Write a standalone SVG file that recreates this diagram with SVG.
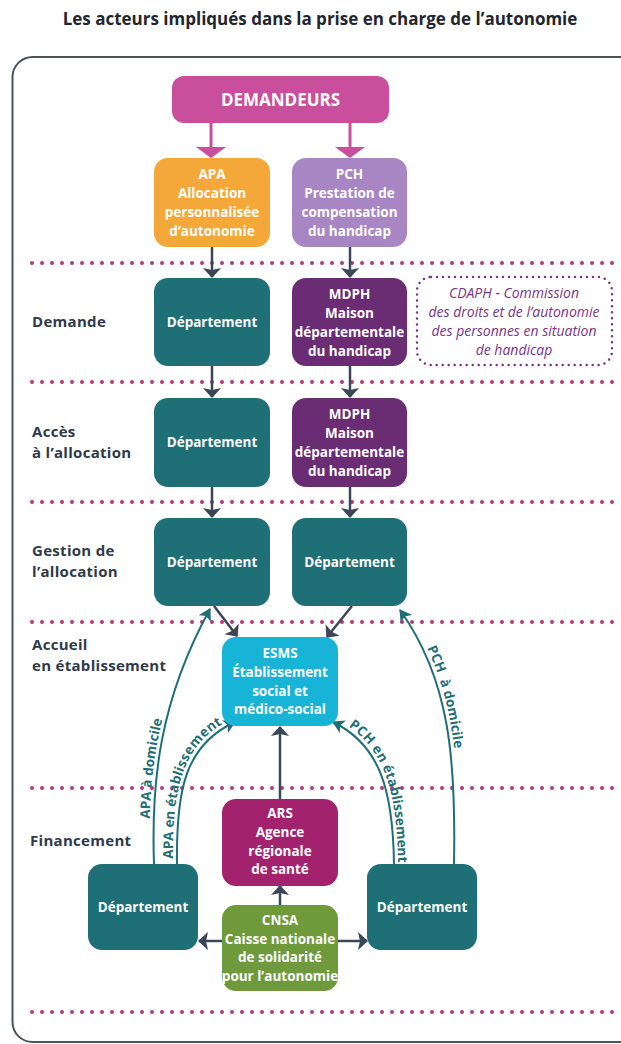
<svg xmlns="http://www.w3.org/2000/svg" width="621" height="1044" viewBox="0 0 621 1044">
<style>
text{font-family:"Open Sans","Liberation Sans",sans-serif;}
.title{font-size:17px;font-weight:bold;fill:#1f2630;text-anchor:middle;}
.sec{font-size:15px;font-weight:bold;fill:#2f3a4a;letter-spacing:0.3px;}
.nt{font-size:13.5px;font-weight:bold;fill:#ffffff;text-anchor:middle;}
.cd{font-size:14px;font-style:italic;fill:#7a3586;text-anchor:middle;}
.cl{font-size:13.5px;font-weight:bold;fill:#1f6f76;}
.dots{stroke:#b8357d;stroke-width:4;stroke-linecap:round;stroke-dasharray:0 10;fill:none;}
.dark{stroke:#3b4659;stroke-width:2.5;fill:none;marker-end:url(#ad);}
.pink{stroke:#c94f9c;stroke-width:3;fill:none;marker-end:url(#ap);}
.teal{stroke:#1f6f76;stroke-width:2;fill:none;marker-end:url(#at);}
</style>
<defs>
<marker id="ad" viewBox="0 0 10 20" refX="9" refY="10" markerWidth="10" markerHeight="20" markerUnits="userSpaceOnUse" orient="auto"><path d="M0,1 L10,10 L0,19 L2,10 z" fill="#3b4659"/></marker>
<marker id="ap" viewBox="0 0 11 30" refX="10" refY="15" markerWidth="11" markerHeight="30" markerUnits="userSpaceOnUse" orient="auto"><path d="M0,0 L11,15 L0,30 z" fill="#c94f9c"/></marker>
<marker id="at" viewBox="0 0 12 14" refX="11" refY="7" markerWidth="12" markerHeight="14" markerUnits="userSpaceOnUse" orient="auto"><path d="M0,0 L12,7 L0,14 L3,7 z" fill="#1f6f76"/></marker>
<path id="p1" d="M154,864 C151,780 160,700 210,609"/>
<path id="p2" d="M177,864 C176,790 185,745 235,722"/>
<path id="p3r" d="M333,722 C380,745 393,790 394,864 L394,890"/>
<path id="p4r" d="M400,610 C450,680 456,760 454,864"/>
</defs>

<text class="title" x="320" y="25">Les acteurs impliqués dans la prise en charge de l’autonomie</text>

<rect x="12.5" y="57" width="640" height="985" rx="20" fill="none" stroke="#4a535c" stroke-width="2"/>

<g id="separators">
<line class="dots" x1="32" y1="263" x2="621" y2="263"/>
<line class="dots" x1="32" y1="382" x2="621" y2="382"/>
<line class="dots" x1="32" y1="502" x2="621" y2="502"/>
<line class="dots" x1="32" y1="622" x2="621" y2="622"/>
<line class="dots" x1="32" y1="788" x2="621" y2="788"/>
<line class="dots" x1="32" y1="1012" x2="621" y2="1012"/>
</g>

<g id="labels">
<text class="sec" x="32" y="327">Demande</text>
<text class="sec" x="32" y="437">Accès</text>
<text class="sec" x="32" y="458">à l’allocation</text>
<text class="sec" x="32" y="556">Gestion de</text>
<text class="sec" x="32" y="577">l’allocation</text>
<text class="sec" x="32" y="650">Accueil</text>
<text class="sec" x="32" y="671">en établissement</text>
<text class="sec" x="30" y="846">Financement</text>
</g>

<g id="connectors">
<line class="pink" x1="211" y1="123" x2="211" y2="157"/>
<line class="pink" x1="350" y1="123" x2="350" y2="157"/>
<line class="dark" x1="212" y1="247" x2="212" y2="277"/>
<line class="dark" x1="350" y1="247" x2="350" y2="277"/>
<line class="dark" x1="212" y1="366" x2="212" y2="397"/>
<line class="dark" x1="350" y1="366" x2="350" y2="397"/>
<line class="dark" x1="212" y1="487" x2="212" y2="517"/>
<line class="dark" x1="350" y1="487" x2="350" y2="517"/>
<line class="dark" x1="214" y1="606" x2="237" y2="636"/>
<line class="dark" x1="352" y1="606" x2="327" y2="637"/>
<line class="dark" x1="280" y1="799" x2="280" y2="727"/>
<line class="dark" x1="280" y1="905" x2="280" y2="886"/>
<line class="dark" x1="222" y1="941" x2="199" y2="941"/>
<line class="dark" x1="338" y1="941" x2="367" y2="941"/>
<use href="#p1" class="teal"/>
<use href="#p2" class="teal"/>
<path class="teal" d="M394,864 C393,790 380,745 333,722"/>
<path class="teal" d="M454,864 C456,760 450,680 400,610"/>
<text class="cl" dy="-4"><textPath href="#p1" startOffset="45">APA à domicile</textPath></text>
<text class="cl" dy="-4"><textPath href="#p2" startOffset="5">APA en établissement</textPath></text>
<text class="cl" dy="-4"><textPath href="#p3r" startOffset="15">PCH en établissement</textPath></text>
<text class="cl" dy="-4"><textPath href="#p4r" startOffset="46">PCH&#160; à domicile</textPath></text>
</g>

<g id="demandeurs"><rect x="172" y="76" width="217" height="47" rx="12" fill="#c94f9c"/><text class="nt" style="font-size:17px" x="280.5" y="106">DEMANDEURS</text></g>

<g id="apa"><rect x="154" y="158" width="116" height="89" rx="14" fill="#f5a83a"/>
<text class="nt" x="212" y="179">APA</text><text class="nt" x="212" y="198">Allocation</text><text class="nt" x="212" y="217">personnalisée</text><text class="nt" x="212" y="236">d’autonomie</text></g>

<g id="pch"><rect x="292" y="158" width="115" height="89" rx="14" fill="#a886c3"/>
<text class="nt" x="349.5" y="179">PCH</text><text class="nt" x="349.5" y="198">Prestation de</text><text class="nt" x="349.5" y="217">compensation</text><text class="nt" x="349.5" y="236">du handicap</text></g>

<g id="dep-demande"><rect x="154" y="278" width="116" height="88" rx="14" fill="#1f6f76"/><text class="nt" x="212" y="327">Département</text></g>

<g id="mdph-demande"><rect x="292" y="278" width="115" height="88" rx="14" fill="#6a2c73"/>
<text class="nt" x="349.5" y="299">MDPH</text><text class="nt" x="349.5" y="318">Maison</text><text class="nt" x="349.5" y="337">départementale</text><text class="nt" x="349.5" y="356">du handicap</text></g>

<g id="cdaph"><rect x="417" y="277" width="195" height="88" rx="14" fill="none" stroke="#7a3586" stroke-width="2.5" stroke-linecap="round" stroke-dasharray="0 6"/>
<text class="cd" x="514" y="298">CDAPH - Commission</text><text class="cd" x="514" y="317">des droits et de l’autonomie</text><text class="cd" x="514" y="336">des personnes en situation</text><text class="cd" x="514" y="355">de handicap</text></g>

<g id="dep-acces"><rect x="154" y="398" width="116" height="89" rx="14" fill="#1f6f76"/><text class="nt" x="212" y="447">Département</text></g>

<g id="mdph-acces"><rect x="292" y="398" width="115" height="89" rx="14" fill="#6a2c73"/>
<text class="nt" x="349.5" y="419">MDPH</text><text class="nt" x="349.5" y="438">Maison</text><text class="nt" x="349.5" y="457">départementale</text><text class="nt" x="349.5" y="476">du handicap</text></g>

<g id="dep-gestion-apa"><rect x="154" y="518" width="116" height="88" rx="14" fill="#1f6f76"/><text class="nt" x="212" y="567">Département</text></g>
<g id="dep-gestion-pch"><rect x="292" y="518" width="115" height="88" rx="14" fill="#1f6f76"/><text class="nt" x="349.5" y="567">Département</text></g>

<g id="esms"><rect x="222" y="637" width="116" height="89" rx="14" fill="#17b4d8"/>
<text class="nt" x="280" y="658">ESMS</text><text class="nt" x="280" y="677">Établissement</text><text class="nt" x="280" y="696">social et</text><text class="nt" x="280" y="714">médico-social</text></g>

<g id="ars"><rect x="222" y="799" width="116" height="87" rx="14" fill="#a3226e"/>
<text class="nt" x="280" y="818">ARS</text><text class="nt" x="280" y="837">Agence</text><text class="nt" x="280" y="856">régionale</text><text class="nt" x="280" y="874">de santé</text></g>

<g id="cnsa"><rect x="222" y="905" width="116" height="86" rx="14" fill="#6e9a3c"/>
<text class="nt" x="280" y="925">CNSA</text><text class="nt" x="280" y="944">Caisse nationale</text><text class="nt" x="280" y="962">de solidarité</text><text class="nt" x="280" y="981">pour l’autonomie</text></g>

<g id="dep-fin-apa"><rect x="88" y="864" width="110" height="86" rx="14" fill="#1f6f76"/><text class="nt" x="143" y="912">Département</text></g>
<g id="dep-fin-pch"><rect x="367" y="864" width="110" height="86" rx="14" fill="#1f6f76"/><text class="nt" x="422" y="912">Département</text></g>
</svg>
